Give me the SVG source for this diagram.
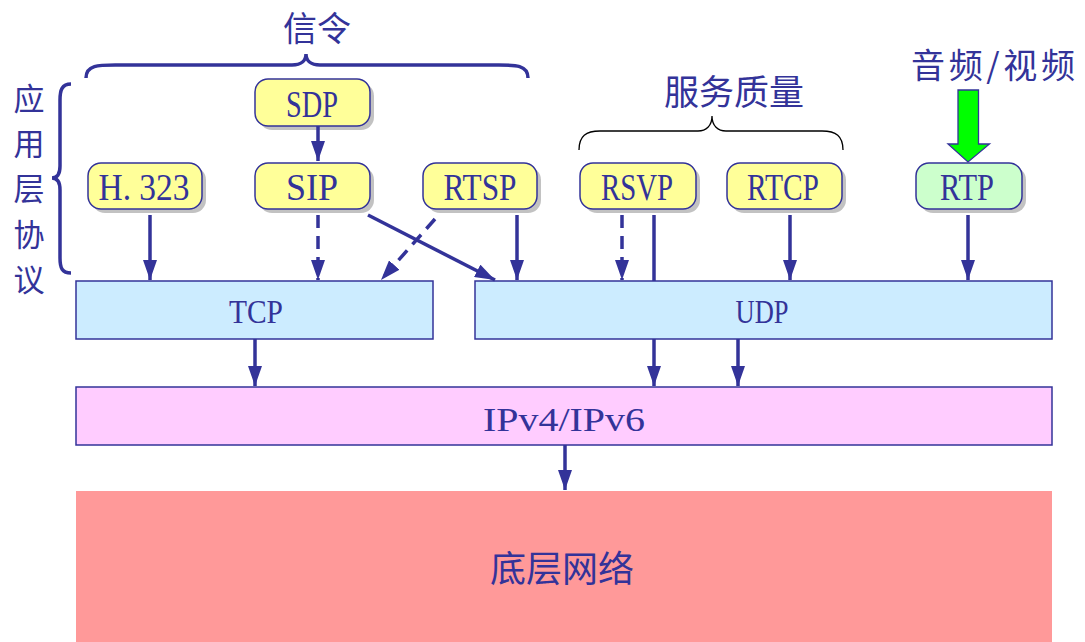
<svg xmlns="http://www.w3.org/2000/svg" width="1085" height="642" viewBox="0 0 1085 642">
  <style>
    .lbl { font-family: "Liberation Serif", "Noto Sans CJK SC", serif; fill: #333399; text-anchor: middle; }
    .cjk { font-family: "Noto Sans CJK SC", "Liberation Serif", sans-serif; fill: #333399; text-anchor: middle; }
    .proto { fill: #FFFF99; stroke: #333399; stroke-width: 1.5; }
    .rtp { fill: #CCFFCC; stroke: #333399; stroke-width: 1.5; }
    .shadow { fill: #999999; opacity: 0.6; }
    .layer { stroke: #333399; stroke-width: 1.5; }
    .conn { stroke: #333399; stroke-width: 3.5; fill: none; }
    .dash { stroke-dasharray: 13 8; }
  </style>
  <defs>
    <marker id="ah" markerUnits="userSpaceOnUse" markerWidth="20" markerHeight="14" refX="20" refY="7" viewBox="0 0 20 14" orient="auto">
      <path d="M0,0 L20,7 L0,14 Z" fill="#333399"/>
    </marker>
  </defs>

  <rect width="1085" height="642" fill="#ffffff"/>

  <!-- titles and braces -->
  <g id="signalling-label">
    <text class="cjk" x="317" y="41" font-size="34">信令</text>
    <path d="M86,78 C86,64 100,65 120,65 L292,65 C302,65 306,60 306,54 C306,60 310,65 320,65 L494,65 C514,65 528,64 528,78" fill="none" stroke="#333399" stroke-width="3.5"/>
  </g>
  <g id="app-layer-label">
    <text class="cjk" font-size="31" x="29" y="110">应</text>
    <text class="cjk" font-size="31" x="29" y="155">用</text>
    <text class="cjk" font-size="31" x="29" y="200">层</text>
    <text class="cjk" font-size="31" x="29" y="246">协</text>
    <text class="cjk" font-size="31" x="29" y="291">议</text>
    <path d="M71,84 C62,84 60,90 60,100 L60,166 C60,174 57,178 52,178 C57,178 60,182 60,190 L60,258 C60,268 62,273 71,273" fill="none" stroke="#333399" stroke-width="3.5"/>
  </g>
  <g id="qos-label">
    <text class="cjk" x="734" y="105" font-size="35">服务质量</text>
    <path d="M579,150 C579,136 586,131 600,131 L698,131 C706,131 712,126 712,116 C712,126 718,131 726,131 L822,131 C836,131 843,136 843,150" fill="none" stroke="#000000" stroke-width="1.3"/>
  </g>
  <g id="media-label">
    <text class="cjk" x="993" y="78" font-size="34" textLength="164" lengthAdjust="spacing">音频/视频</text>
    <path d="M958,90 L978.5,90 L978.5,144 L989.5,144 L968,162 L948,144 L958,144 Z" fill="#00FF00" stroke="#333399" stroke-width="1.3"/>
  </g>

  <!-- application protocols -->
  <g id="sdp">
    <rect class="shadow" x="259" y="83" width="115" height="47" rx="13"/>
    <rect class="proto" x="255" y="79" width="115" height="47" rx="13"/>
    <text class="lbl" x="312" y="117" font-size="37" textLength="52" lengthAdjust="spacingAndGlyphs">SDP</text>
  </g>
  <g id="h323">
    <rect class="shadow" x="92" y="167" width="114" height="46" rx="13"/>
    <rect class="proto" x="88" y="163" width="114" height="46" rx="13"/>
    <text class="lbl" x="144" y="200" font-size="37" textLength="91" lengthAdjust="spacingAndGlyphs">H. 323</text>
  </g>
  <g id="sip">
    <rect class="shadow" x="259" y="167" width="115" height="46" rx="13"/>
    <rect class="proto" x="255" y="163" width="115" height="46" rx="13"/>
    <text class="lbl" x="312" y="200" font-size="37" textLength="52" lengthAdjust="spacingAndGlyphs">SIP</text>
  </g>
  <g id="rtsp">
    <rect class="shadow" x="427" y="167" width="114" height="46" rx="13"/>
    <rect class="proto" x="423" y="163" width="114" height="46" rx="13"/>
    <text class="lbl" x="480" y="200" font-size="37" textLength="73" lengthAdjust="spacingAndGlyphs">RTSP</text>
  </g>
  <g id="rsvp">
    <rect class="shadow" x="584" y="167" width="116" height="46" rx="13"/>
    <rect class="proto" x="580" y="163" width="116" height="46" rx="13"/>
    <text class="lbl" x="637" y="200" font-size="37" textLength="72" lengthAdjust="spacingAndGlyphs">RSVP</text>
  </g>
  <g id="rtcp">
    <rect class="shadow" x="731" y="167" width="115" height="46" rx="13"/>
    <rect class="proto" x="727" y="163" width="115" height="46" rx="13"/>
    <text class="lbl" x="783" y="200" font-size="37" textLength="72" lengthAdjust="spacingAndGlyphs">RTCP</text>
  </g>
  <g id="rtp">
    <rect class="shadow" x="920" y="167" width="106" height="46" rx="13"/>
    <rect class="rtp" x="916" y="163" width="106" height="46" rx="13"/>
    <text class="lbl" x="967" y="200" font-size="37" textLength="54" lengthAdjust="spacingAndGlyphs">RTP</text>
  </g>

  <!-- transport, network and link layers -->
  <g id="tcp">
    <rect class="layer" x="76" y="281" width="357" height="58" fill="#CCECFF"/>
    <text class="lbl" x="256" y="323" font-size="33" textLength="54" lengthAdjust="spacingAndGlyphs">TCP</text>
  </g>
  <g id="udp">
    <rect class="layer" x="475" y="281" width="577" height="58" fill="#CCECFF"/>
    <text class="lbl" x="762" y="323" font-size="33" textLength="53" lengthAdjust="spacingAndGlyphs">UDP</text>
  </g>
  <g id="ip">
    <rect class="layer" x="76" y="387" width="976" height="58" fill="#FFCCFF"/>
    <text class="lbl" x="564" y="431" font-size="33" textLength="162" lengthAdjust="spacingAndGlyphs">IPv4/IPv6</text>
  </g>
  <g id="network">
    <rect x="76" y="491" width="976" height="160" fill="#FF9999"/>
    <text class="cjk" x="562" y="582" font-size="36">底层网络</text>
  </g>

  <!-- connectors -->
  <g id="connectors">
    <line class="conn" x1="318" y1="126" x2="318" y2="161" marker-end="url(#ah)"/>
    <line class="conn" x1="150" y1="215" x2="150" y2="280" marker-end="url(#ah)"/>
    <line class="conn dash" x1="318" y1="215" x2="318" y2="280" marker-end="url(#ah)"/>
    <line class="conn dash" x1="435" y1="219" x2="381" y2="280" marker-end="url(#ah)"/>
    <line class="conn" x1="368" y1="215" x2="495" y2="280" marker-end="url(#ah)"/>
    <line class="conn" x1="517" y1="215" x2="517" y2="280" marker-end="url(#ah)"/>
    <line class="conn dash" x1="622" y1="215" x2="622" y2="280" marker-end="url(#ah)"/>
    <line class="conn" x1="654" y1="215" x2="654" y2="281"/>
    <line class="conn" x1="790" y1="215" x2="790" y2="280" marker-end="url(#ah)"/>
    <line class="conn" x1="968" y1="215" x2="968" y2="280" marker-end="url(#ah)"/>
    <line class="conn" x1="255" y1="339" x2="255" y2="386" marker-end="url(#ah)"/>
    <line class="conn" x1="654" y1="339" x2="654" y2="386" marker-end="url(#ah)"/>
    <line class="conn" x1="738" y1="339" x2="738" y2="386" marker-end="url(#ah)"/>
    <line class="conn" x1="565" y1="445" x2="565" y2="490" marker-end="url(#ah)"/>
  </g>
</svg>
